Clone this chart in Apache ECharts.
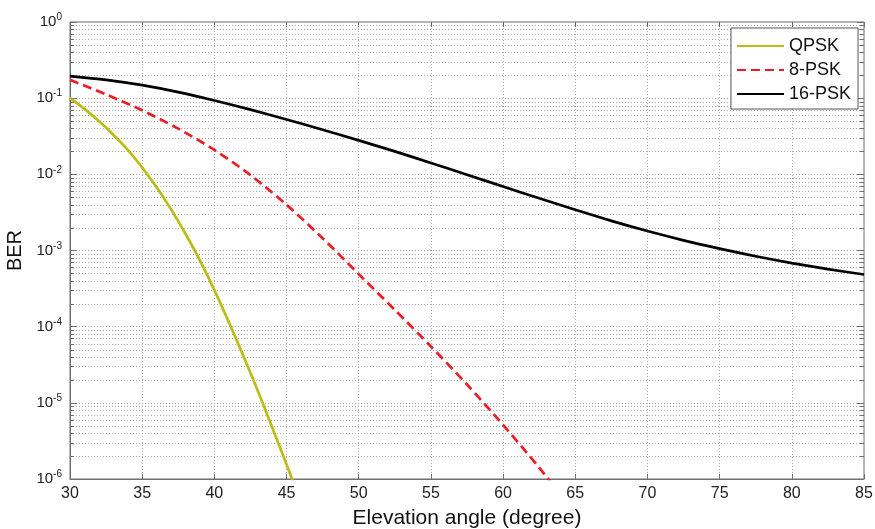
<!DOCTYPE html>
<html>
<head>
<meta charset="utf-8">
<script src="https://cdn.jsdelivr.net/npm/echarts@6/dist/echarts.min.js"></script>
<style>
  html, body { margin: 0; padding: 0; background: #fff; }
  #chart { width: 875px; height: 529px; }
</style>
</head>
<body>
<div id="chart"></div>
<script>
// Elevation angle samples (degrees)
const angleQPSK = [30, 31, 32, 33, 34, 35, 36, 37, 38, 39, 40, 41, 42, 43, 44, 45, 46];
const angle8PSK = [30, 32.5, 35, 37.5, 40, 42.5, 45, 47.5, 50, 52.5, 55, 57.5, 60, 62.5, 65];
const angle16PSK = [30, 32.5, 35, 37.5, 40, 42.5, 45, 47.5, 50, 52.5, 55, 57.5, 60, 62.5,
                    65, 67.5, 70, 72.5, 75, 77.5, 80, 82.5, 85];

// Bit error rate for each modulation
const berQPSK = [0.1, 0.0724, 0.0501, 0.0331, 0.0209, 0.0123, 6.76e-3, 3.47e-3, 1.66e-3,
                 7.41e-4, 3.02e-4, 1.15e-4, 4.17e-5, 1.45e-5, 4.79e-6, 1.55e-6, 4.9e-7];
const ber8PSK = [0.174, 0.112, 0.0692, 0.0398, 0.0209, 9.77e-3, 3.98e-3, 1.45e-3, 4.90e-4,
                 1.66e-4, 5.50e-5, 1.74e-5, 5.13e-6, 1.41e-6, 3.55e-7];
const ber16PSK = [0.195, 0.174, 0.148, 0.120, 0.0933, 0.0708, 0.0525, 0.0385, 0.0279, 0.0200,
                  0.0141, 9.89e-3, 6.92e-3, 4.84e-3, 3.43e-3, 2.45e-3, 1.80e-3, 1.36e-3,
                  1.06e-3, 8.41e-4, 6.84e-4, 5.69e-4, 4.84e-4];

const seriesNames = ['QPSK', '8-PSK', '16-PSK'];

// Decade range of the BER axis and the 2..9 subdivisions inside each decade
const decadeExponents = [-6, -5, -4, -3, -2, -1];
const minorMultipliers = [2, 3, 4, 5, 6, 7, 8, 9];

const minorGridValues = [];
decadeExponents.forEach(e => {
  minorMultipliers.forEach(m => minorGridValues.push([30, m * Math.pow(10, e)]));
});

const zip = (xs, ys) => xs.map((x, i) => [x, ys[i]]);

const FONT = '"Liberation Sans", Arial, sans-serif';
const chart = echarts.init(document.getElementById('chart'));

const dotted = { color: '#ababab', width: 1, type: [1, 2] };

chart.setOption({
  backgroundColor: '#fff',
  animation: false,
  grid: {
    left: 70, right: 11, top: 22, bottom: 50,
    outerBoundsMode: 'none',
    containLabel: false,
    show: true, borderColor: '#6e6e6e', borderWidth: 1, backgroundColor: 'transparent'
  },
  legend: {
    data: seriesNames,
    orient: 'vertical',
    right: 17,
    top: 28,
    backgroundColor: '#fff',
    borderColor: '#555',
    borderWidth: 1,
    borderRadius: 0,
    padding: [9, 7, 6, 5],
    itemWidth: 47,
    itemHeight: 12,
    itemGap: 6,
    itemStyle: { opacity: 0 },
    textStyle: { fontFamily: FONT, fontSize: 18, color: '#111' }
  },
  xAxis: [{
    type: 'value',
    min: 30, max: 85, interval: 5,
    name: 'Elevation angle (degree)',
    nameLocation: 'middle',
    nameGap: 29,
    nameTextStyle: { fontFamily: FONT, fontSize: 21, color: '#111' },
    axisLine: { show: true, onZero: false, lineStyle: { color: '#6e6e6e' } },
    axisTick: { show: true, inside: true, length: 5, lineStyle: { color: '#6e6e6e' } },
    axisLabel: { fontFamily: FONT, fontSize: 16, color: '#222', margin: 7 },
    splitLine: { show: true, lineStyle: dotted }
  }, {
    type: 'value',
    position: 'top',
    min: 30, max: 85, interval: 5,
    axisLine: { show: false },
    axisTick: { show: true, inside: true, length: 5, lineStyle: { color: '#6e6e6e' } },
    axisLabel: { show: false },
    splitLine: { show: false }
  }],
  yAxis: [{
    type: 'log',
    logBase: 10,
    min: 1e-6, max: 1,
    name: 'BER',
    nameLocation: 'middle',
    nameGap: 8,
    nameTextStyle: { fontFamily: FONT, fontSize: 20, color: '#111' },
    axisLine: { show: true, onZero: false, lineStyle: { color: '#6e6e6e' } },
    axisTick: { show: true, inside: true, length: 7, lineStyle: { color: '#6e6e6e' } },
    axisLabel: {
      margin: 8,
      formatter: v => '{b|10}{s|' + Math.round(Math.log10(v)) + '}',
      rich: {
        b: { fontFamily: FONT, fontSize: 15, color: '#222' },
        s: { fontFamily: FONT, fontSize: 10, color: '#222', padding: [0, 0, 9, 0] }
      }
    },
    splitLine: { show: true, lineStyle: dotted }
  }, {
    type: 'log',
    logBase: 10,
    position: 'right',
    min: 1e-6, max: 1,
    axisLine: { show: false },
    axisTick: { show: true, inside: true, length: 7, lineStyle: { color: '#6e6e6e' } },
    axisLabel: { show: false },
    splitLine: { show: false }
  }],
  series: [{
    // minor log grid lines with short solid ticks on both sides
    type: 'custom',
    name: 'minor',
    silent: true,
    z: 1,
    xAxisIndex: 0,
    yAxisIndex: 0,
    encode: { x: 0, y: 1 },
    data: minorGridValues,
    renderItem: (params, api) => {
      const y = Math.round(api.coord([30, api.value(1)])[1]) + 0.5;
      const cs = params.coordSys;
      return {
        type: 'group',
        children: [
          { type: 'line', shape: { x1: cs.x, y1: y, x2: cs.x + cs.width, y2: y },
            style: { stroke: '#ababab', lineWidth: 1, lineDash: [1, 2] } },
          { type: 'line', shape: { x1: cs.x, y1: y, x2: cs.x + 4, y2: y },
            style: { stroke: '#6e6e6e', lineWidth: 1 } },
          { type: 'line', shape: { x1: cs.x + cs.width - 4, y1: y, x2: cs.x + cs.width, y2: y },
            style: { stroke: '#6e6e6e', lineWidth: 1 } }
        ]
      };
    }
  }, {
    name: 'QPSK',
    type: 'line',
    z: 3,
    smooth: 0.3,
    symbol: 'none',
    data: zip(angleQPSK, berQPSK),
    lineStyle: { color: '#bcbc14', width: 2.7 },
    itemStyle: { color: '#bcbc14' }
  }, {
    name: '8-PSK',
    type: 'line',
    z: 4,
    smooth: 0.3,
    symbol: 'none',
    data: zip(angle8PSK, ber8PSK),
    lineStyle: { color: '#ee1c24', width: 2.7, type: [9, 5] },
    itemStyle: { color: '#ee1c24' }
  }, {
    name: '16-PSK',
    type: 'line',
    z: 5,
    smooth: 0.3,
    symbol: 'none',
    data: zip(angle16PSK, ber16PSK),
    lineStyle: { color: '#000', width: 2.7 },
    itemStyle: { color: '#000' }
  }]
});
</script>
</body>
</html>
